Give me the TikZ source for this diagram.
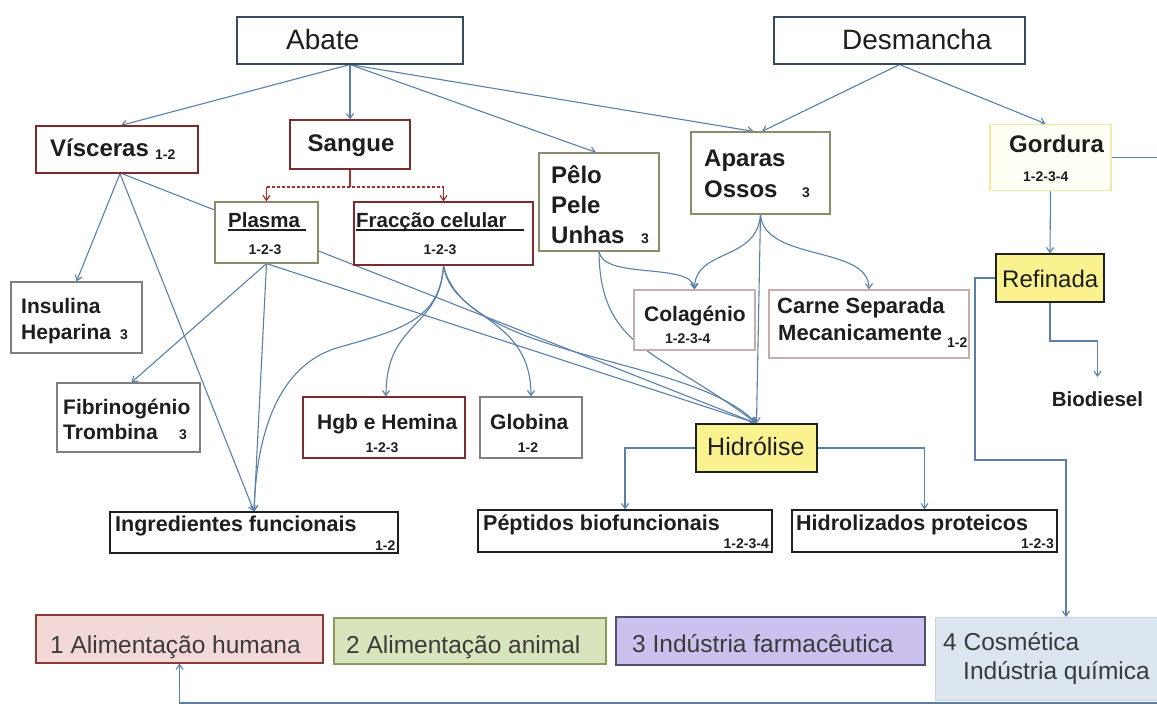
\documentclass[tikz,border=0pt]{standalone}
\usepackage{fontspec}
\setmainfont{Liberation Sans}
\usetikzlibrary{arrows.meta,calc}
\pgfdeclarelayer{bglayer}
\pgfdeclarelayer{linelayer}
\pgfsetlayers{bglayer,linelayer,main}
\definecolor{lnc}{HTML}{5B80A8}
\definecolor{redc}{HTML}{A0302A}
\definecolor{txtc}{HTML}{1E1E1E}
\definecolor{legtxt}{HTML}{3A3A3A}
\definecolor{darkb}{HTML}{3B4A5A}
\definecolor{redb}{HTML}{7B2C2C}
\definecolor{oliveb}{HTML}{8C8C6C}
\definecolor{grayb}{HTML}{7F7F7F}
\definecolor{pinkb}{HTML}{C4AFAF}
\definecolor{blackb}{HTML}{202020}
\definecolor{yelf}{HTML}{F9F28E}
\definecolor{gordb}{HTML}{F0E8A4}
\definecolor{gordf}{HTML}{FFFFF6}
\definecolor{l1f}{HTML}{F2D8D6}
\definecolor{l1b}{HTML}{8B3A3A}
\definecolor{l2f}{HTML}{D8E4BC}
\definecolor{l2b}{HTML}{8A9A5B}
\definecolor{l3f}{HTML}{CCC1EE}
\definecolor{l3b}{HTML}{4F4F6F}
\definecolor{l4f}{HTML}{DCE6F1}
\definecolor{l4b}{HTML}{C8D4E0}
\newcommand\myB[1]{\bfseries\fontsize{#1}{#1}\selectfont}
\newcommand\myR[1]{\fontsize{#1}{#1}\selectfont}
\newcommand\myul[2]{\rlap{\rule[-4pt]{#2pt}{1.6pt}}#1}
\begin{document}
\begin{tikzpicture}[x=1pt,y=-1pt,
  bxbase/.style={draw, line width=1.2pt, fill=white, inner sep=0pt},
  bxdark/.style={bxbase, draw=darkb},
  bxred/.style={bxbase, draw=redb},
  bxolive/.style={bxbase, draw=oliveb},
  bxgray/.style={bxbase, draw=grayb},
  bxpink/.style={bxbase, draw=pinkb},
  bxblack/.style={bxbase, draw=blackb},
  bxyel/.style={bxbase, draw=blackb, fill=yelf},
  bxgord/.style={bxbase, draw=gordb, line width=1.6pt, fill=gordf},
  leg1/.style={bxbase, draw=l1b, fill=l1f},
  leg2/.style={bxbase, draw=l2b, fill=l2f},
  leg3/.style={bxbase, draw=l3b, fill=l3f},
  leg4/.style={bxbase, draw=l4b, fill=l4f, line width=0.8pt},
  lab/.style={inner sep=0pt, text=txtc, anchor=base west},
  legl/.style={lab, text=legtxt, font=\myR{24.5}},
  numl/.style={lab, font=\myB{14}},
  conn/.style={draw=lnc, line width=1.1pt, -{Straight Barb[length=5pt,width=7pt]}},
  plain/.style={draw=lnc, line width=1.1pt},
  redconn/.style={draw=redc, line width=1.2pt, -{Straight Barb[length=5pt,width=7pt]}},
  redplain/.style={draw=redc, line width=1.2pt}
]
\useasboundingbox (0,0) rectangle (1157,706);
\begin{pgfonlayer}{bglayer}
\fill[white] (0,0) rectangle (1157,706);
\end{pgfonlayer}

% ---------- boxes ----------
\node[bxdark, minimum width=226pt, minimum height=47pt] (abate) at (350,40.5) {};
\node[bxdark, minimum width=251pt, minimum height=47pt] (desm) at (899.5,40.5) {};
\node[bxred, minimum width=162pt, minimum height=47pt] (visc) at (117,149.5) {};
\node[bxred, minimum width=120pt, minimum height=49pt] (sang) at (350,144.5) {};
\node[bxolive, minimum width=103pt, minimum height=61pt] (plasma) at (266.5,232.5) {};
\node[bxred, minimum width=179pt, minimum height=63pt] (frac) at (443.5,233.5) {};
\node[bxolive, minimum width=120pt, minimum height=98pt] (pelo) at (599,202) {};
\node[bxolive, minimum width=139pt, minimum height=82pt] (apar) at (760.5,173) {};
\node[bxgord, minimum width=121pt, minimum height=66pt] (gord) at (1050.5,157.5) {};
\node[bxyel, minimum width=108pt, minimum height=48pt] (refin) at (1050,278) {};
\node[bxgray, minimum width=131pt, minimum height=71pt] (insul) at (76.5,317.5) {};
\node[bxgray, minimum width=143pt, minimum height=69pt] (fibr) at (128.5,417.5) {};
\node[bxred, minimum width=162pt, minimum height=61pt] (hgb) at (384,427.5) {};
\node[bxgray, minimum width=102pt, minimum height=61pt] (glob) at (531,427.5) {};
\node[bxpink, minimum width=121pt, minimum height=60pt] (colag) at (694.5,320) {};
\node[bxpink, minimum width=200pt, minimum height=68pt] (carne) at (869,324) {};
\node[bxyel, minimum width=121pt, minimum height=48pt] (hidr) at (756.5,448) {};
\node[bxblack, minimum width=288pt, minimum height=41pt] (ingr) at (254,532.5) {};
\node[bxblack, minimum width=294pt, minimum height=42pt] (pept) at (625,531) {};
\node[bxblack, minimum width=265pt, minimum height=42pt] (hidz) at (924.5,531) {};
\node[leg1, minimum width=287pt, minimum height=48pt] (alim1) at (179.5,639) {};
\node[leg2, minimum width=272pt, minimum height=46pt] (alim2) at (470,641) {};
\node[leg3, minimum width=309pt, minimum height=48pt] (farm) at (770.5,641) {};
\node[leg4, minimum width=240pt, minimum height=83pt] (cosm) at (1055,658.5) {};

% ---------- texts ----------
\node[lab, font=\myR{28}] (tabate) at (286,50) {Abate};
\node[lab, font=\myR{28}] (tdesm) at (842,50) {Desmancha};
\node[lab, font=\myB{24}] (tvisc) at (50,157) {Vísceras};
\node[numl] (nvisc) at (155,160) {1-2};
\node[lab, font=\myB{24}, anchor=base] (tsang) at (351,152) {Sangue};
\node[lab, font=\myB{20.5}] (tplasma) at (228,227) {\myul{Plasma}{78}};
\node[numl, anchor=base] (nplasma) at (265,254) {1-2-3};
\node[lab, font=\myB{20.5}] (tfrac) at (356,227) {\myul{Fracção celular}{168}};
\node[numl, anchor=base] (nfrac) at (440,254) {1-2-3};
\node[lab, font=\myB{24}] (tpelo1) at (551,183) {Pêlo};
\node[lab, font=\myB{24}] (tpelo2) at (551,213) {Pele};
\node[lab, font=\myB{24}] (tpelo3) at (551,243) {Unhas};
\node[numl] (npelo) at (641,243) {3};
\node[lab, font=\myB{24}] (tapar1) at (704,167) {Aparas};
\node[lab, font=\myB{24}] (tapar2) at (704,197) {Ossos};
\node[numl] (napar) at (802,197) {3};
\node[lab, font=\myB{24}] (tgord) at (1009,153) {Gordura};
\node[numl] (ngord) at (1023,182) {1-2-3-4};
\node[lab, font=\myR{24}] (trefin) at (1002,287) {Refinada};
\node[lab, font=\myB{20.5}, anchor=base, inner ysep=14pt] (bio) at (1097.5,406) {Biodiesel};
\node[lab, font=\myB{21}] (tinsul1) at (21,313) {Insulina};
\node[lab, font=\myB{21}] (tinsul2) at (21,339) {Heparina};
\node[numl] (ninsul) at (120,339) {3};
\node[lab, font=\myB{21}] (tfibr1) at (63,414) {Fibrinogénio};
\node[lab, font=\myB{21}] (tfibr2) at (63,439) {Trombina};
\node[numl] (nfibr) at (179,439) {3};
\node[lab, font=\myB{21}] (thgb) at (317,429) {Hgb e Hemina};
\node[numl, anchor=base] (nhgb) at (382,452) {1-2-3};
\node[lab, font=\myB{21}] (tglob) at (490,429) {Globina};
\node[numl, anchor=base] (nglob) at (528,452) {1-2};
\node[lab, font=\myB{21}] (tcolag) at (644,321) {Colagénio};
\node[numl] (ncolag) at (665,343) {1-2-3-4};
\node[lab, font=\myB{22}] (tcarne1) at (777,313) {Carne Separada};
\node[lab, font=\myB{22}] (tcarne2) at (778,340) {Mecanicamente};
\node[numl] (ncarne) at (947,347) {1-2};
\node[lab, font=\myR{25}] (thidr) at (707,455) {Hidrólise};
\node[lab, font=\myB{21.5}] (tingr) at (115,531) {Ingredientes funcionais};
\node[numl] (ningr) at (375,550) {1-2};
\node[lab, font=\myB{21.5}] (tpept) at (483,530) {Péptidos biofuncionais};
\node[numl, anchor=base east] (npept) at (769,548) {1-2-3-4};
\node[lab, font=\myB{21.5}] (thidz) at (796,530) {Hidrolizados proteicos};
\node[numl, anchor=base east] (nhidz) at (1054,548) {1-2-3};
\node[legl] (talim1) at (50,653) {1 Alimentação humana};
\node[legl] (talim2) at (346,653) {2 Alimentação animal};
\node[legl] (tfarm) at (632,652) {3 Indústria farmacêutica};
\node[legl] (tcosm1) at (943,650) {4 Cosmética};
\node[legl] (tcosm2) at (963,679) {Indústria química};

% ---------- junction coordinates ----------
\coordinate (sj) at (350,187);
\coordinate (sjl) at (266.5,187);
\coordinate (sjr) at (443.5,187);
\coordinate (bd1) at (1050,341);
\coordinate (bd2) at (1097.5,341);
\coordinate (rf1) at (975,278);
\coordinate (rf2) at (975,460);
\coordinate (rf3) at (1066,460);
\coordinate (cosmin) at (1066,617);
\coordinate (gr1) at (1178,157.5);
\coordinate (gr2) at (1178,703);
\coordinate (gr3) at (179.5,703);

% ---------- connectors ----------
\begin{pgfonlayer}{linelayer}
\draw[conn] (abate.south) -- ([xshift=4pt]visc.north);
\draw[conn] (abate.south) -- (sang.north);
\draw[conn] (abate.south) -- ([xshift=-3pt]pelo.north);
\draw[conn] (abate.south) -- ([xshift=-7pt]apar.north);
\draw[conn] (desm.south) -- ([xshift=1.5pt]apar.north);
\draw[conn] (desm.south) -- ([xshift=-5pt]gord.north);
% Sangue split
\draw[redplain] (sang.south) -- (sj);
\draw[redplain, densely dashed] (sjl) -- (sjr);
\draw[redconn] (sjl) -- (plasma.north);
\draw[redconn] (sjr) -- (frac.north);
% Visceras
\draw[conn] ([xshift=3pt]visc.south) -- (insul.north);
\draw[conn] ([xshift=3pt]visc.south) -- (ingr.north);
\draw[conn] ([xshift=5pt]visc.south) -- (hidr.north);
% Plasma
\draw[conn] (plasma.south) -- ([xshift=3pt]fibr.north);
\draw[conn] (plasma.south) -- (ingr.north);
\draw[conn] (plasma.south) -- (hidr.north);
% Fraccao
\draw[conn] (frac.south) .. controls (440,330) and (386,320) .. ([xshift=2pt]hgb.north);
\draw[conn] (frac.south) .. controls (452,320) and (531,315) .. (glob.north);
\draw[conn] (frac.south) .. controls (440,320) and (400,330) .. (340,347)
  .. controls (285,362) and (257,420) .. (ingr.north);
\draw[conn] (frac.south) .. controls (465,360) and (690,355) .. (hidr.north);
% Pelo
\draw[conn] (pelo.south) .. controls (603,280) and (692,262) .. (colag.north);
\draw[conn] (pelo.south) .. controls (600,350) and (660,350) .. (hidr.north);
% Aparas
\draw[conn] (apar.south) .. controls (757,262) and (695,248) .. (colag.north);
\draw[conn] (apar.south) .. controls (764,262) and (869,245) .. (carne.north);
\draw[conn] (apar.south) -- (hidr.north);
% Hidrolise
\draw[conn] (hidr.west) -| (pept.north);
\draw[conn] (hidr.east) -| (hidz.north);
% Gordura
\draw[conn] (gord.south) -- (refin.north);
\draw[conn] (refin.south) -- (bd1) -- (bd2) -- (bio.north);
\draw[conn] (refin.west) -- (rf1) -- (rf2) -- (rf3) -- (cosmin);
\draw[conn] (gord.east) -- (gr1) -- (gr2) -- (gr3) -- (alim1.south);
\end{pgfonlayer}
\end{tikzpicture}
\end{document}
